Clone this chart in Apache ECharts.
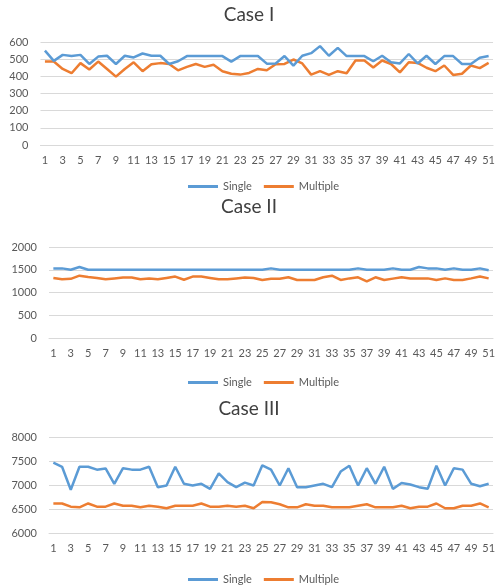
<!DOCTYPE html>
<html><head><meta charset="utf-8">
<script src="https://cdn.jsdelivr.net/npm/echarts@6/dist/echarts.min.js"></script>
<style>html,body{margin:0;padding:0;background:#fff}#c{width:498px;height:587px}</style>
</head><body><div id="c"></div>
<script>
const categories = Array.from({length:51},(_,i)=>String(i+1));
const case1Single = [550,490,525,518,525,472,515,520,472,520,510,533,520,520,472,488,518,518,518,518,518,486,518,518,518,474,475,518,462,520,535,576,520,566,518,518,518,488,520,482,475,530,475,520,472,518,518,472,472,508,518];
const case1Multiple = [486,486,443,418,477,440,486,443,398,443,482,430,470,477,472,435,455,472,455,467,430,415,410,420,443,435,470,472,498,475,410,430,408,430,418,492,492,452,492,472,423,482,478,450,430,463,408,415,463,448,478];
const case2Single = [1530,1530,1500,1560,1500,1500,1500,1500,1500,1500,1500,1500,1500,1500,1500,1500,1500,1500,1500,1500,1500,1500,1500,1500,1500,1530,1500,1500,1500,1500,1500,1500,1500,1500,1500,1530,1500,1500,1500,1530,1500,1500,1560,1530,1530,1500,1530,1500,1500,1530,1490];
const case2Multiple = [1320,1290,1300,1370,1340,1320,1290,1310,1330,1330,1290,1310,1290,1320,1350,1280,1350,1350,1320,1290,1290,1310,1330,1320,1275,1300,1300,1335,1275,1275,1275,1335,1370,1275,1310,1335,1245,1335,1275,1305,1335,1310,1310,1310,1275,1310,1275,1275,1310,1350,1310];
const case3Single = [7466,7380,6900,7380,7380,7320,7345,7025,7350,7320,7320,7380,6955,6990,7380,7025,6990,7025,6920,7240,7060,6955,7050,6990,7410,7320,6990,7350,6955,6955,6990,7025,6955,7280,7400,6990,7350,7025,7380,6920,7040,7010,6955,6920,7400,6990,7350,7320,7025,6975,7025];
const case3Multiple = [6615,6615,6548,6535,6615,6548,6548,6615,6568,6568,6535,6568,6548,6515,6568,6568,6568,6615,6548,6548,6568,6548,6568,6515,6645,6640,6600,6535,6535,6600,6568,6568,6535,6535,6535,6568,6600,6535,6535,6535,6568,6515,6548,6548,6615,6515,6515,6568,6568,6615,6535];
const titles = ['Case I','Case II','Case III'];
const yMin = [0,0,6000], yMax = [600,2000,8000], yInt = [100,500,500];

const FONT = 'Lato';
const grids = [
  {left:40.5, right:4.5, top:42, height:103},
  {left:49, right:1, top:247, height:91},
  {left:49, right:1, top:437, height:96}
];
const titleTops = [0, 192, 394];
const legendTops = [176, 372, 569];
const data = [[case1Single,case1Multiple],[case2Single,case2Multiple],[case3Single,case3Multiple]];

const option = {
  animation:false,
  title: titles.map((t,i)=>({text:t,left:'center',top:titleTops[i],textStyle:{fontFamily:FONT,fontSize:19,fontWeight:'normal',color:'#404040'}})),
  legend: legendTops.map((t)=>({data:['Single','Multiple'],top:t,left:183,icon:'rect',itemWidth:30,itemHeight:3,itemGap:12,textStyle:{fontFamily:FONT,fontSize:11,color:'#595959'}})),
  grid: grids,
  xAxis: grids.map((g,i)=>({type:'category',gridIndex:i,data:categories,boundaryGap:true,
    axisTick:{show:false},axisLine:{lineStyle:{color:'#D9D9D9',width:1}},
    axisLabel:{interval:1,color:'#595959',fontFamily:FONT,fontSize:11,margin:10}})),
  yAxis: grids.map((g,i)=>({type:'value',gridIndex:i,min:yMin[i],max:yMax[i],interval:yInt[i],
    axisLine:{show:false},axisTick:{show:false},
    splitLine:{lineStyle:{color:'#D9D9D9',width:1}},
    axisLabel:{color:'#595959',fontFamily:FONT,fontSize:11,margin:12,formatter:(v)=>String(v)}})),
  series: []
};
const colors = ['#5B9BD5','#ED7D31'];
const names = ['Single','Multiple'];
data.forEach((pair,gi)=>{
  pair.forEach((arr,si)=>{
    option.series.push({type:'line',name:names[si],xAxisIndex:gi,yAxisIndex:gi,data:arr,symbol:'none',
      lineStyle:{color:colors[si],width:2.5},itemStyle:{color:colors[si]},z:si===0?3:2});
  });
});
const chart = echarts.init(document.getElementById('c'),null,{renderer:'canvas'});
chart.setOption(option);
</script></body></html>
